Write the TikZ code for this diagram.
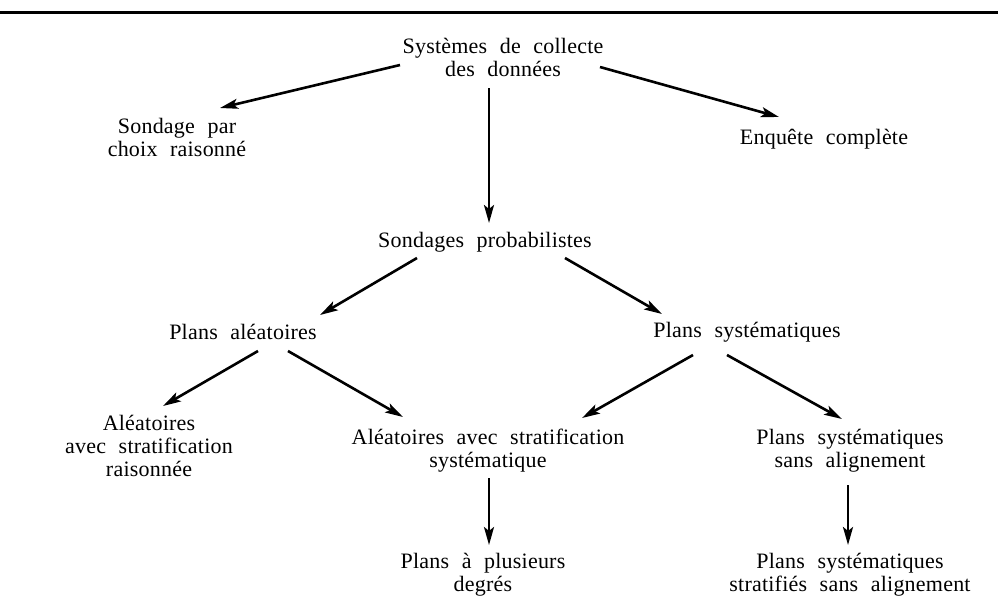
\documentclass[tikz,border=0pt]{standalone}
\usepackage{fontspec}
\setmainfont{Liberation Serif}[LetterSpace=1,WordSpace=2.2]
\usetikzlibrary{arrows.meta}

\begin{document}
\begin{tikzpicture}[x=1pt,y=-1pt,
lbl/.style={align=center,inner sep=0pt,font=\fontsize{22}{23}\selectfont},
arr/.style={line width=2.6pt,-{Stealth[length=18pt,width=10pt,inset=4pt]}}]
\useasboundingbox (0,0) rectangle (998,603);
\draw[line width=3pt] (0,12) -- (998,12);

\node (sys) [lbl] at (503,57) {Systèmes de collecte\\des données};
\node (choix) [lbl] at (177,137) {Sondage par\\choix raisonné};
\node (enq) [lbl] at (824,139) {Enquête complète};
\node (proba) [lbl] at (485,242) {Sondages probabilistes};
\node (alea) [lbl] at (243,332) {Plans aléatoires};
\node (syst) [lbl] at (747,332) {Plans systématiques};
\node (aleaR) [lbl] at (149,446) {Aléatoires\\avec stratification\\raisonnée};
\node (aleaS) [lbl] at (488,451) {Aléatoires avec stratification\\systématique};
\node (sansal) [lbl] at (850,451) {Plans systématiques\\sans alignement};
\node (degres) [lbl] at (483,575) {Plans à plusieurs\\degrés};
\node (strat) [lbl] at (850,575) {Plans systématiques\\stratifiés sans alignement};

\draw[arr] ([shift={(-103,8)}]sys.center) -- ([shift={(43,-29)}]choix.center);
\draw[arr] ([shift={(97,10)}]sys.center) -- ([shift={(-45,-22)}]enq.center);
\draw[arr] ([shift={(-14,31)}]sys.center) -- ([shift={(4,-19)}]proba.center);
\draw[arr] ([shift={(-68,16)}]proba.center) -- ([shift={(77,-17)}]alea.center);
\draw[arr] ([shift={(80,16)}]proba.center) -- ([shift={(-85,-18)}]syst.center);
\draw[arr] ([shift={(15,19)}]alea.center) -- ([shift={(14,-40)}]aleaR.center);
\draw[arr] ([shift={(45,19)}]alea.center) -- ([shift={(-85,-34)}]aleaS.center);
\draw[arr] ([shift={(-54,23)}]syst.center) -- ([shift={(94,-33)}]aleaS.center);
\draw[arr] ([shift={(-20,23)}]syst.center) -- ([shift={(-8,-32)}]sansal.center);
\draw[arr] ([shift={(1,27)}]aleaS.center) -- ([shift={(6,-30)}]degres.center);
\draw[arr] ([shift={(-2,34)}]sansal.center) -- ([shift={(-2,-30)}]strat.center);
\end{tikzpicture}
\end{document}
